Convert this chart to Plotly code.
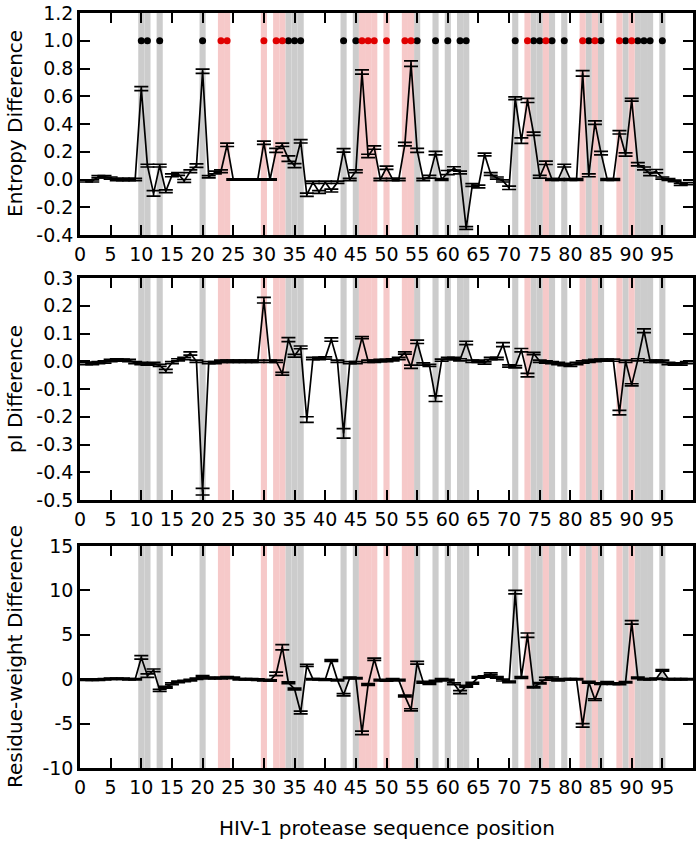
import plotly.graph_objects as go

positions = list(range(1, 100))

entropy_diff = [
    -0.01, -0.01, 0.02, 0.02, 0.01, 0.0, 0.0, 0.0, 0.0, 0.655,
    0.10, -0.10, 0.10, -0.085, 0.03, 0.04, -0.01, 0.06, 0.10, 0.78,
    0.02, 0.05, 0.06, 0.25, 0.0, 0.0, 0.0, 0.0, 0.0, 0.265,
    0.0, 0.21, 0.25, 0.15, 0.10, 0.275, -0.11, -0.02, -0.09, -0.02,
    -0.08, -0.02, 0.21, 0.0, 0.06, 0.775, 0.17, 0.23, 0.0, 0.085,
    0.0, 0.0, 0.255, 0.835, 0.21, 0.0, 0.02, 0.19, 0.0, 0.05,
    0.08, 0.05, -0.35, -0.04, -0.05, 0.18, 0.04, 0.01, -0.01, -0.06,
    0.585, 0.28, 0.57, 0.33, 0.02, 0.12, 0.0, 0.0, 0.10, 0.0,
    0.0, 0.765, 0.03, 0.41, 0.19, 0.0, 0.0, 0.34, 0.18, 0.575,
    0.11, 0.08, 0.04, 0.06, 0.01, 0.0, -0.01, -0.035, -0.03,
]
entropy_err = [
    0.008, 0.008, 0.008, 0.008, 0.008, 0.008, 0.008, 0.008, 0.008, 0.015,
    0.01, 0.02, 0.01, 0.01, 0.01, 0.01, 0.01, 0.01, 0.012, 0.015,
    0.008, 0.01, 0.01, 0.012, 0.005, 0.005, 0.005, 0.005, 0.005, 0.012,
    0.005, 0.015, 0.012, 0.02, 0.015, 0.012, 0.012, 0.008, 0.01, 0.008,
    0.01, 0.008, 0.012, 0.008, 0.01, 0.015, 0.012, 0.012, 0.008, 0.012,
    0.008, 0.008, 0.012, 0.02, 0.015, 0.008, 0.01, 0.012, 0.006, 0.015,
    0.012, 0.01, 0.01, 0.01, 0.01, 0.01, 0.01, 0.008, 0.008, 0.012,
    0.01, 0.02, 0.015, 0.012, 0.01, 0.012, 0.006, 0.006, 0.01, 0.006,
    0.006, 0.02, 0.01, 0.012, 0.012, 0.006, 0.006, 0.012, 0.012, 0.01,
    0.012, 0.01, 0.012, 0.012, 0.008, 0.006, 0.006, 0.008, 0.008,
]

pi_diff = [
    -0.008, -0.008, -0.005, -0.003, 0.003, 0.005, 0.004, 0.003, -0.005, -0.008,
    -0.01, -0.008, -0.015, -0.035, -0.005, 0.005, 0.01, 0.028, 0.0, -0.47,
    -0.005, -0.005, 0.0, 0.0, 0.0, 0.0, 0.0, 0.0, 0.0, 0.22,
    0.0, 0.0, -0.045, 0.078, 0.02, 0.05, -0.21, 0.01, 0.01, 0.012,
    0.078, 0.0, -0.26, -0.005, -0.005, 0.085, 0.0, 0.0, 0.003, 0.003,
    0.005, 0.01, 0.03, -0.02, 0.07, -0.01, -0.015, -0.135, 0.004, 0.01,
    0.01, 0.005, 0.066, 0.0, 0.0, -0.006, 0.01, 0.01, 0.06, -0.017,
    -0.02, 0.04, -0.05, 0.028, 0.0, -0.003, -0.005, -0.008, -0.012, -0.015,
    -0.008, -0.003, 0.0, 0.003, 0.004, 0.004, 0.004, -0.185, 0.0, -0.085,
    0.005, 0.11, 0.0, 0.0, 0.0, -0.008, -0.01, -0.01, -0.005,
]
pi_err = [
    0.004, 0.004, 0.004, 0.004, 0.004, 0.004, 0.004, 0.004, 0.004, 0.004,
    0.004, 0.004, 0.004, 0.006, 0.004, 0.004, 0.004, 0.006, 0.004, 0.012,
    0.004, 0.004, 0.004, 0.004, 0.004, 0.004, 0.004, 0.004, 0.004, 0.01,
    0.004, 0.004, 0.005, 0.007, 0.005, 0.005, 0.01, 0.004, 0.004, 0.004,
    0.006, 0.004, 0.017, 0.004, 0.004, 0.004, 0.004, 0.004, 0.004, 0.004,
    0.004, 0.004, 0.004, 0.006, 0.006, 0.004, 0.004, 0.01, 0.004, 0.004,
    0.004, 0.004, 0.006, 0.004, 0.004, 0.004, 0.004, 0.004, 0.007, 0.004,
    0.004, 0.006, 0.006, 0.004, 0.004, 0.004, 0.004, 0.004, 0.004, 0.004,
    0.004, 0.004, 0.004, 0.004, 0.004, 0.004, 0.004, 0.008, 0.004, 0.004,
    0.004, 0.007, 0.004, 0.004, 0.004, 0.004, 0.004, 0.004, 0.004,
]

weight_diff = [
    -0.05, -0.05, -0.05, 0.0, 0.05, 0.05, 0.05, 0.0, 0.0, 2.45,
    0.4, 1.0, -1.25, -0.9, -0.5, -0.3, -0.2, -0.1, 0.05, 0.3,
    0.1, 0.15, 0.1, 0.2, 0.15, 0.0, 0.0, 0.0, -0.05, -0.1,
    -0.15, 0.6, 3.6, -0.4, -1.1, -3.75, 1.55, 0.0, 0.0, -0.05,
    2.1, -0.1, -1.75, 0.15, 0.1, -6.05, -0.6, 2.25, -0.1, -0.15,
    0.0, -0.1, -1.9, -3.45, 1.85, -0.35, -0.5, -0.2, 0.0, -0.1,
    -0.5, -1.45, -0.8, -0.45, 0.2, 0.3, 0.6, 0.2, -0.1, -0.3,
    9.8, 0.2, 4.95, -0.9, -0.45, 0.05, 0.15, -0.1, 0.0, 0.0,
    0.0, -5.2, -0.35, -2.3, -0.5, -0.35, -0.5, -0.5, -0.35, 6.4,
    0.15, 0.0, 0.0, 0.05, 1.0, 0.0, 0.0, 0.0, 0.0,
]
weight_err = [
    0.08, 0.08, 0.08, 0.08, 0.08, 0.08, 0.08, 0.08, 0.08, 0.2,
    0.2, 0.15, 0.12, 0.1, 0.1, 0.08, 0.08, 0.08, 0.08, 0.1,
    0.08, 0.08, 0.08, 0.08, 0.08, 0.08, 0.08, 0.08, 0.08, 0.08,
    0.08, 0.2, 0.3, 0.1, 0.1, 0.15, 0.12, 0.08, 0.08, 0.08,
    0.1, 0.08, 0.12, 0.08, 0.08, 0.2, 0.1, 0.12, 0.08, 0.08,
    0.08, 0.08, 0.1, 0.12, 0.15, 0.1, 0.08, 0.08, 0.08, 0.08,
    0.1, 0.17, 0.1, 0.1, 0.08, 0.08, 0.12, 0.08, 0.1, 0.08,
    0.2, 0.1, 0.25, 0.08, 0.08, 0.15, 0.1, 0.08, 0.08, 0.08,
    0.08, 0.2, 0.1, 0.1, 0.08, 0.08, 0.08, 0.1, 0.08, 0.2,
    0.08, 0.08, 0.08, 0.08, 0.08, 0.08, 0.08, 0.08, 0.08,
]

# significant positions (gray band + black dot, pink band + red dot)
sig_gray = [10, 11, 13, 20, 34, 35, 36, 43, 45, 55, 58, 60, 62, 63, 71, 74, 75,
            77, 79, 83, 85, 89, 91, 92, 93, 95]
sig_pink = [23, 24, 30, 32, 33, 46, 47, 48, 50, 53, 54, 73, 76, 82, 84, 88, 90]
dot_level = 1.0

x_ticks = list(range(0, 100, 5))
y1_ticks = [-0.4, -0.2, 0.0, 0.2, 0.4, 0.6, 0.8, 1.0, 1.2]
y1_text = ["-0.4", "-0.2", "0.0", "0.2", "0.4", "0.6", "0.8", "1.0", "1.2"]
y2_ticks = [-0.5, -0.4, -0.3, -0.2, -0.1, 0.0, 0.1, 0.2, 0.3]
y2_text = ["-0.5", "-0.4", "-0.3", "-0.2", "-0.1", "0.0", "0.1", "0.2", "0.3"]
y3_ticks = [-10, -5, 0, 5, 10, 15]
y3_text = ["-10", "-5", "0", "5", "10", "15"]

GRAY = "#cccccc"
PINK = "#f6c9c9"
FONT = "DejaVu Sans"

fig = go.Figure()

panels = [
    ("x", "y", entropy_diff, entropy_err),
    ("x2", "y2", pi_diff, pi_err),
    ("x3", "y3", weight_diff, weight_err),
]

shapes = []
for xr, yr, vals, errs in panels:
    for p in sig_gray:
        shapes.append(dict(type="rect", xref=xr, yref=yr + " domain", x0=p - 0.5, x1=p + 0.5,
                           y0=0, y1=1, fillcolor=GRAY, line=dict(width=0), layer="below"))
    for p in sig_pink:
        shapes.append(dict(type="rect", xref=xr, yref=yr + " domain", x0=p - 0.5, x1=p + 0.5,
                           y0=0, y1=1, fillcolor=PINK, line=dict(width=0), layer="below"))
    fig.add_trace(go.Scatter(
        x=positions, y=vals, mode="lines", xaxis=xr, yaxis=yr,
        line=dict(color="black", width=1.7),
        error_y=dict(type="data", array=errs, visible=True, color="black",
                     thickness=1.7, width=7),
        showlegend=False, hoverinfo="skip"))

fig.add_trace(go.Scatter(x=sig_gray, y=[dot_level] * len(sig_gray), mode="markers",
                         xaxis="x", yaxis="y", marker=dict(color="black", size=7),
                         showlegend=False, hoverinfo="skip"))
fig.add_trace(go.Scatter(x=sig_pink, y=[dot_level] * len(sig_pink), mode="markers",
                         xaxis="x", yaxis="y", marker=dict(color="#e00000", size=7),
                         showlegend=False, hoverinfo="skip"))

W, H = 700, 841


def px(xw):
    return xw / W


def py(yw):
    return (H - yw) / H


xdom = [px(80), px(693)]


def ydom(top, bottom):
    return [py(bottom), py(top)]


common_x = dict(range=[0, 100], tickvals=x_ticks, ticks="inside", ticklen=10, tickwidth=1.5,
                tickcolor="black", showline=True, linewidth=2.5, linecolor="black",
                mirror="ticks", showgrid=False, zeroline=False, automargin=False,
                tickfont=dict(family=FONT, size=19, color="black"), domain=xdom)
common_y = dict(ticks="inside", ticklen=10, tickwidth=1.5, tickcolor="black", showline=True,
                linewidth=2.5, linecolor="black", mirror="ticks", showgrid=False,
                zeroline=False, automargin=False, ticklabeloverflow="allow",
                tickfont=dict(family=FONT, size=19, color="black"))

title_font = dict(family=FONT, size=20, color="black")

fig.update_layout(
    width=W, height=H,
    margin=dict(l=0, r=0, t=0, b=0),
    paper_bgcolor="white", plot_bgcolor="white",
    showlegend=False,
    hovermode=False,
    shapes=shapes,
    xaxis=dict(anchor="y", **common_x),
    xaxis2=dict(anchor="y2", **common_x),
    xaxis3=dict(anchor="y3", **common_x),
    yaxis=dict(anchor="x", domain=ydom(13, 235), range=[-0.4, 1.2],
               tickvals=y1_ticks, ticktext=y1_text, **common_y),
    yaxis2=dict(anchor="x2", domain=ydom(278, 500), range=[-0.5, 0.3],
                tickvals=y2_ticks, ticktext=y2_text, **common_y),
    yaxis3=dict(anchor="x3", domain=ydom(546, 768), range=[-10, 15],
                tickvals=y3_ticks, ticktext=y3_text, **common_y),
    annotations=[
        dict(text="Entropy Difference", x=px(15), y=py(124), xref="paper", yref="paper",
             textangle=-90, showarrow=False, xanchor="center", yanchor="middle",
             font=title_font),
        dict(text="pI Difference", x=px(15), y=py(389), xref="paper", yref="paper",
             textangle=-90, showarrow=False, xanchor="center", yanchor="middle",
             font=title_font),
        dict(text="Residue-weight Difference", x=px(15), y=py(657), xref="paper",
             yref="paper", textangle=-90, showarrow=False, xanchor="center",
             yanchor="middle", font=title_font),
        dict(text="HIV-1 protease sequence position", x=px(386.5), y=py(828),
             xref="paper", yref="paper", showarrow=False, xanchor="center",
             yanchor="middle", font=title_font),
    ],
)

# remove the default 8px page margin so the figure fills the window exactly
fig.write_html("out.html", config={"displayModeBar": False},
               post_script="document.body.style.margin='0px';")
